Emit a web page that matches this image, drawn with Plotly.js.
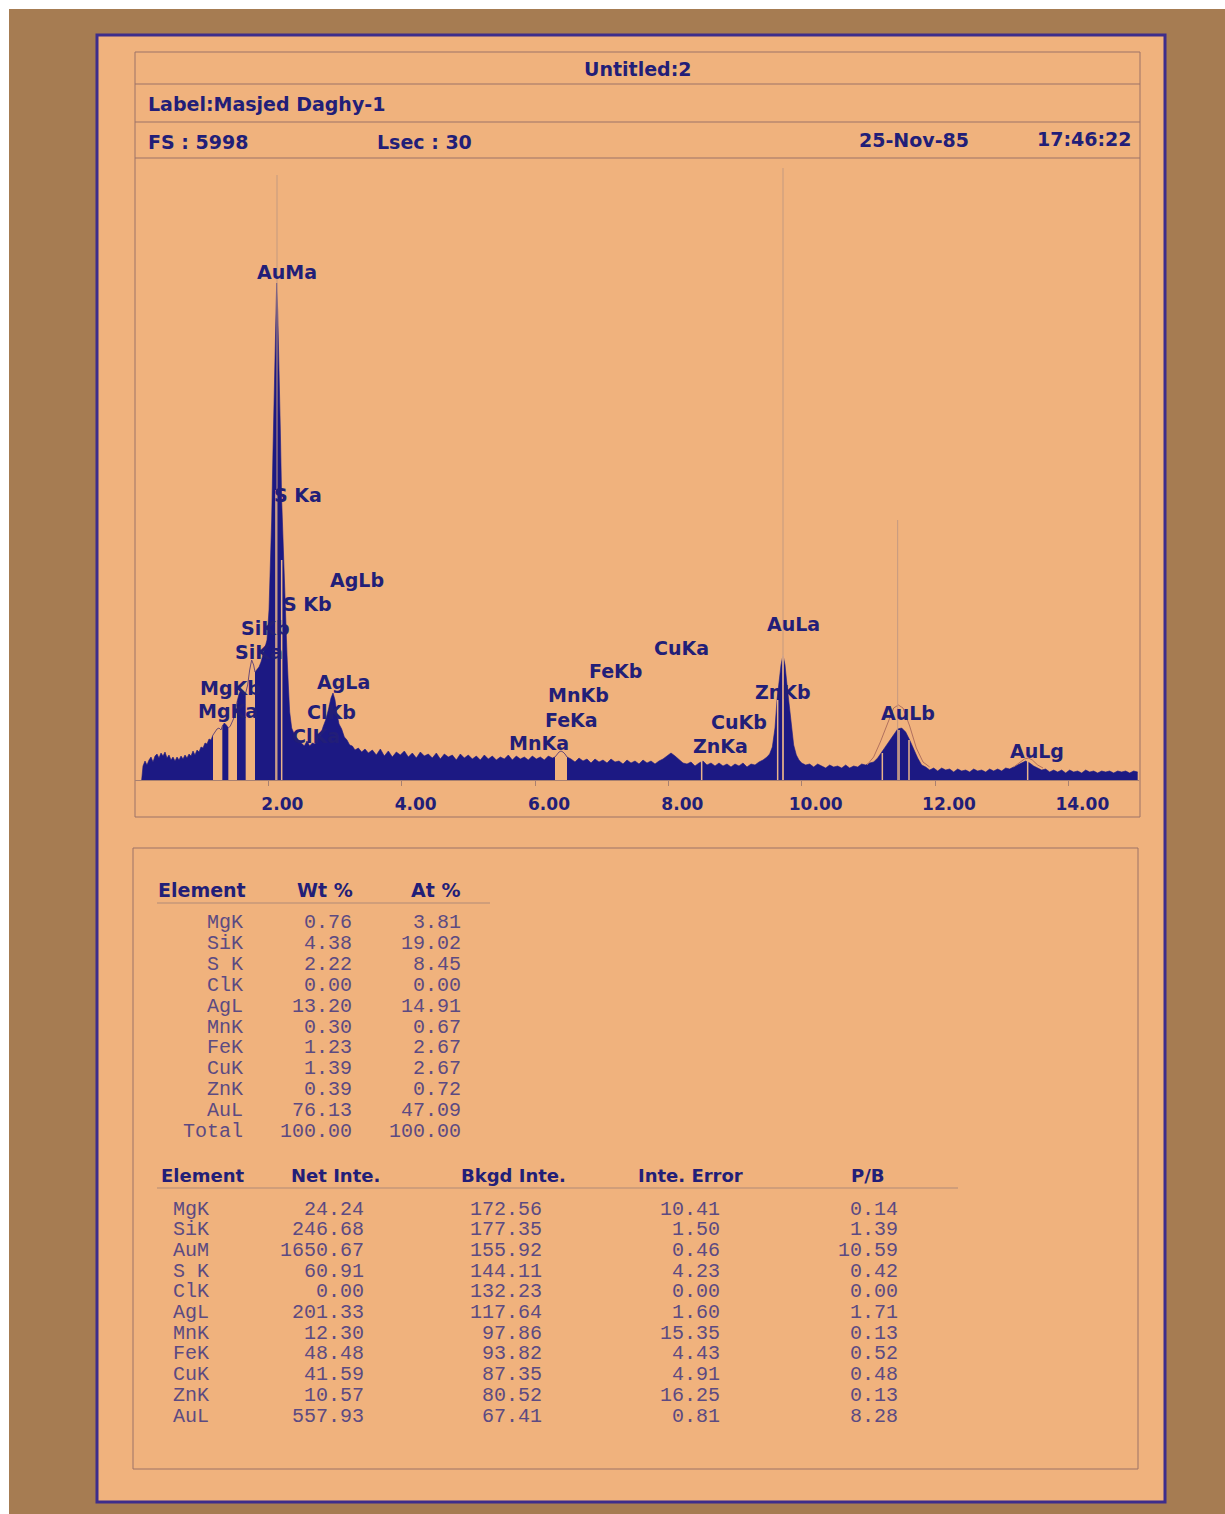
<!DOCTYPE html>
<html>
<head>
<meta charset="utf-8">
<script src="https://cdn.plot.ly/plotly-3.0.1.min.js"></script>
<style>html,body{margin:0;padding:0;background:#a67c52;}#chart{width:1225px;height:1514px;}</style>
</head>
<body>
<div id="chart"></div>
<script>
// ---------- spectrum data (energy keV, counts) ----------
const energy = [
0.10,0.12,0.15,0.18,0.21,0.24,0.27,0.30,0.33,0.36,0.39,0.42,
0.45,0.48,0.51,0.54,0.57,0.60,0.63,0.66,0.69,0.72,0.75,0.78,
0.81,0.84,0.87,0.90,0.93,0.96,0.99,1.02,1.05,1.08,1.11,1.14,
1.17,1.20,1.23,1.26,1.29,1.31,1.34,1.37,1.40,1.43,1.47,1.50,
1.53,1.56,1.59,1.62,1.66,1.69,1.72,1.75,1.78,1.80,1.83,1.86,
1.89,1.92,1.95,1.98,2.01,2.03,2.05,2.07,2.09,2.11,2.125,2.14,
2.16,2.18,2.20,2.22,2.24,2.26,2.28,2.30,2.32,2.35,2.40,2.45,
2.50,2.54,2.58,2.62,2.66,2.70,2.74,2.78,2.82,2.86,2.90,2.94,
2.97,3.00,3.03,3.06,3.10,3.14,3.18,3.22,3.26,3.30,3.35,3.40,
3.45,3.50,3.56,3.62,3.68,3.74,3.80,3.86,3.92,3.98,4.04,4.10,
4.16,4.22,4.28,4.34,4.40,4.46,4.52,4.58,4.64,4.70,4.76,4.82,
4.88,4.94,5.00,5.06,5.12,5.18,5.24,5.30,5.36,5.42,5.48,5.54,
5.60,5.66,5.72,5.78,5.84,5.90,5.96,6.02,6.08,6.14,6.20,6.26,
6.30,6.33,6.36,6.39,6.42,6.45,6.48,6.54,6.60,6.66,6.72,6.78,
6.84,6.90,6.96,7.02,7.08,7.14,7.20,7.26,7.32,7.38,7.44,7.50,
7.56,7.62,7.68,7.74,7.80,7.86,7.92,7.98,8.04,8.10,8.16,8.22,
8.28,8.34,8.40,8.46,8.52,8.58,8.64,8.70,8.76,8.82,8.88,8.94,
9.00,9.06,9.12,9.18,9.24,9.30,9.36,9.42,9.48,9.52,9.56,9.60,
9.63,9.66,9.69,9.72,9.75,9.78,9.81,9.84,9.88,9.92,9.96,10.00,
10.06,10.12,10.18,10.24,10.30,10.36,10.42,10.48,10.54,10.60,10.66,10.72,
10.78,10.84,10.90,10.96,11.02,11.08,11.14,11.20,11.26,11.32,11.38,11.44,
11.50,11.56,11.62,11.68,11.74,11.80,11.86,11.92,11.98,12.04,12.10,12.16,
12.22,12.28,12.34,12.40,12.46,12.52,12.58,12.64,12.70,12.76,12.82,12.88,
12.94,13.00,13.06,13.12,13.18,13.24,13.30,13.36,13.42,13.48,13.54,13.60,
13.66,13.72,13.78,13.84,13.90,13.96,14.02,14.08,14.14,14.20,14.26,14.32,
14.38,14.44,14.50,14.56,14.62,14.68,14.74,14.80,14.86,14.92,14.98,15.04];
const counts = [
0,140,190,150,200,230,180,240,260,220,270,240,
280,220,250,200,230,190,230,200,240,210,250,220,
260,240,290,250,300,280,330,320,370,360,410,400,
450,480,510,520,500,540,570,550,520,540,600,650,
780,860,900,880,870,950,1100,1200,1150,1080,1100,1130,
1180,1250,1320,1400,1700,2100,2600,3300,4000,4600,4970,4700,
4200,3500,2800,2350,2000,1600,1250,950,680,520,440,400,
370,340,390,340,370,360,420,440,530,600,700,820,
870,800,660,560,510,430,400,350,340,300,320,280,
310,270,300,250,310,240,290,230,280,250,290,230,
270,220,280,240,260,220,270,210,260,230,250,200,
260,220,250,210,240,200,250,210,240,200,230,210,
250,200,240,210,230,200,240,210,230,200,240,220,
230,260,280,290,280,260,230,210,180,220,190,210,
170,210,180,200,170,210,180,190,160,200,170,190,
160,200,170,190,160,190,210,240,270,240,200,170,
160,180,140,170,190,150,170,140,170,140,160,130,
160,140,170,130,160,150,180,200,230,260,330,520,
800,1000,1150,1250,1150,950,750,550,350,250,200,170,
150,160,130,160,140,120,150,130,140,120,150,120,
140,130,160,150,170,180,220,280,330,400,460,510,
520,480,400,310,220,150,130,100,120,90,120,100,
110,80,110,90,100,80,110,90,100,80,110,90,
110,90,120,110,130,150,170,190,170,140,120,100,
110,80,100,80,100,70,100,80,90,70,100,80,
90,70,90,80,90,70,90,80,90,70,90,80];

// integration windows drawn unfilled (keV)
const roiLo = [1.17, 1.40, 1.66, 6.30];
const roiHi = [1.31, 1.53, 1.80, 6.48];

// window boundary markers inside peaks (keV, counts top)
const roiLineE   = [2.115, 2.20, 8.50, 9.64, 9.72, 11.21, 11.46, 11.61, 13.39];
const roiLineTop = [2900, 2200, 200, 800, 1250, 270, 500, 400, 190];

// KLM marker lines (keV, counts top)
const markerE   = [2.13, 9.72, 11.44];
const markerTop = [6050, 6120, 2600];

// fitted outline of AuLb / AuLg
const fitE = [10.98,11.08,11.18,11.28,11.38,11.45,11.52,11.62,11.72,11.82,11.92, null, 13.18,13.26,13.34,13.40,13.46,13.54,13.62];
const fitC = [150,230,380,560,720,750,720,540,320,180,130, null, 130,170,210,220,200,150,120];

// peak labels
const lineLabels = ['AuMa','S Ka','AgLb','S Kb','SiKb','SiKa','MgKb','MgKa','AgLa','ClKb','ClKa','MnKa','FeKa','MnKb','FeKb','CuKa','ZnKa','CuKb','ZnKb','AuLa','AuLb','AuLg'];
const labelE = [2.28,2.445,3.33,2.58,1.95,1.86,1.425,1.395,3.12,2.95,2.715,6.06,6.54,6.65,7.20,8.20,8.78,9.06,9.72,9.87,11.60,13.53];
const labelC = [5080,2850,2000,1760,1520,1280,920,690,980,680,440,370,600,850,1090,1320,340,580,880,1560,670,290];

// axis ticks
const tickVals = [2,4,6,8,10,12,14];
const tickText = ['2.00','4.00','6.00','8.00','10.00','12.00','14.00'];

// header texts
const titleText = 'Untitled:2';
const labelText = 'Label:Masjed Daghy-1';
const fsText = 'FS : 5998';
const lsecText = 'Lsec : 30';
const dateText = '25-Nov-85';
const timeText = '17:46:22';

// table 1
const t1Head = ['Element','Wt %','At %'];
const elements1 = ['MgK','SiK','S K','ClK','AgL','MnK','FeK','CuK','ZnK','AuL','Total'];
const wtPct = ['0.76','4.38','2.22','0.00','13.20','0.30','1.23','1.39','0.39','76.13','100.00'];
const atPct = ['3.81','19.02','8.45','0.00','14.91','0.67','2.67','2.67','0.72','47.09','100.00'];

// table 2
const t2Head = ['Element','Net Inte.','Bkgd Inte.','Inte. Error','P/B'];
const elements2 = ['MgK','SiK','AuM','S K','ClK','AgL','MnK','FeK','CuK','ZnK','AuL'];
const netInte = ['24.24','246.68','1650.67','60.91','0.00','201.33','12.30','48.48','41.59','10.57','557.93'];
const bkgdInte = ['172.56','177.35','155.92','144.11','132.23','117.64','97.86','93.82','87.35','80.52','67.41'];
const inteError = ['10.41','1.50','0.46','4.23','0.00','1.60','15.35','4.43','4.91','16.25','0.81'];
const pbRatio = ['0.14','1.39','10.59','0.42','0.00','1.71','0.13','0.52','0.48','0.13','8.28'];

// ---------- styling ----------
const W = 1225, H = 1514;
const PX = x => x / W, PY = y => 1 - y / H;
const NAVY = '#221e78', FILL = '#1c1983', PEACH = '#f0b27d', RULE = '#9c7268', NUM = '#5c4a82';
const BOLD = 'DejaVu Sans, Arial, sans-serif';
const MONO = 'Liberation Mono, DejaVu Sans Mono, monospace';

const inRoi = (e, closed) => roiLo.some((lo, i) => closed ? (e >= lo && e <= roiHi[i]) : (e > lo && e < roiHi[i]));

// split spectrum into filled runs outside the windows
const traces = [];
let cur = null;
energy.forEach((e, i) => {
  if (inRoi(e, false)) { cur = null; return; }
  if (!cur) { cur = {x: [], y: []}; traces.push({x: cur.x, y: cur.y, type:'scatter', mode:'lines', fill:'tozeroy',
    fillcolor: FILL, line: {color: FILL, width: 0.6}, hoverinfo:'skip'}); }
  cur.x.push(e); cur.y.push(counts[i]);
});
// outline inside windows
traces.push({x: energy, y: counts.map((c, i) => inRoi(energy[i], true) ? c : null), type:'scatter', mode:'lines',
  connectgaps:false, line:{color:'#6a4a78', width:1}, hoverinfo:'skip'});
traces.push({x: fitE, y: fitC, type:'scatter', mode:'lines', connectgaps:false, line:{color:'#b0705e', width:1}, hoverinfo:'skip'});

const shapes = [];
const annotations = [];
shapes.push({type:'rect', xref:'paper', yref:'paper', x0:0, x1:PX(9), y0:0, y1:1, fillcolor:'#ffffff', line:{width:0}, layer:'below'});
shapes.push({type:'rect', xref:'paper', yref:'paper', x0:0, x1:1, y0:PY(9), y1:1, fillcolor:'#ffffff', line:{width:0}, layer:'below'});
shapes.push({type:'rect', xref:'paper', yref:'paper', x0:PX(97), x1:PX(1165), y0:PY(1502), y1:PY(35), fillcolor:PEACH, line:{color:'#3d2d8c', width:3}, layer:'below'});
const hline = (x0, x1, y, w, c) => shapes.push({type:'line', xref:'paper', yref:'paper', x0:PX(x0), x1:PX(x1), y0:PY(y), y1:PY(y), line:{color:c||RULE, width:w||1}, layer:'below'});
const vline = (x, y0, y1, w, c) => shapes.push({type:'line', xref:'paper', yref:'paper', x0:PX(x), x1:PX(x), y0:PY(y0), y1:PY(y1), line:{color:c||RULE, width:w||1}, layer:'below'});
hline(135, 1140, 52); hline(135, 1140, 84); hline(135, 1140, 122); hline(135, 1140, 158);
hline(135, 1140, 817);
vline(135, 52, 817); vline(1140, 52, 817);
hline(133, 1138, 848); hline(133, 1138, 1469); vline(133, 848, 1469); vline(1138, 848, 1469);
hline(157, 490, 903, 1, '#b08a78'); hline(157, 958, 1188, 1, '#b08a78');

markerE.forEach((e, i) => shapes.push({type:'line', xref:'x', yref:'y', x0:e, x1:e, y0:0, y1:markerTop[i], line:{color:'#c49a80', width:1}, layer:'above'}));
roiLineE.forEach((e, i) => shapes.push({type:'line', xref:'x', yref:'y', x0:e, x1:e, y0:0, y1:roiLineTop[i], line:{color:'#e9b48a', width:1.5}, layer:'above'}));

lineLabels.forEach((t, i) => annotations.push({x: labelE[i], y: labelC[i], xref:'x', yref:'y', text: t, showarrow:false,
  xanchor:'center', yanchor:'middle', font:{family:BOLD, size:19, color:NAVY, weight:'bold'}}));

const txt = (x, y, t, anchor, font) => annotations.push({x: PX(x), y: PY(y), xref:'paper', yref:'paper', text: t, showarrow:false,
  xanchor: anchor, yanchor:'middle', font: font});
const headF = {family:BOLD, size:19, color:NAVY, weight:'bold'};
txt(637, 69, titleText, 'center', headF);
txt(146, 104, labelText, 'left', headF);
txt(146, 142, fsText, 'left', headF);
txt(375, 142, lsecText, 'left', headF);
txt(857, 140, dateText, 'left', headF);
txt(1134, 139, timeText, 'right', headF);

const thF = {family:BOLD, size:19, color:NAVY, weight:'bold'};
const numF = {family:MONO, size:20, color:NUM};
txt(202, 890, t1Head[0], 'center', thF);
txt(325, 890, t1Head[1], 'center', thF);
txt(435, 890, t1Head[2], 'center', thF);
elements1.forEach((e, i) => {
  const y = 923 + i * 20.8;
  txt(245, y, e, 'right', numF);
  txt(354, y, wtPct[i], 'right', numF);
  txt(463, y, atPct[i], 'right', numF);
});
const t2x = [202, 335, 513, 690, 868];
t2Head.forEach((h, j) => txt(t2x[j], 1175, h, 'center', Object.assign({}, thF, {size:18})));
elements2.forEach((e, i) => {
  const y = 1209 + i * 20.7;
  txt(171, y, e, 'left', numF);
  txt(366, y, netInte[i], 'right', numF);
  txt(544, y, bkgdInte[i], 'right', numF);
  txt(722, y, inteError[i], 'right', numF);
  txt(900, y, pbRatio[i], 'right', numF);
});

const layout = {
  width: W, height: H, margin: {l:0, r:0, t:0, b:0},
  paper_bgcolor: '#a67c52', plot_bgcolor: 'rgba(0,0,0,0)', showlegend: false,
  xaxis: {domain: [135/W, 1139/W], range: [0, 15.06], tickmode:'array', tickvals: tickVals, ticktext: tickText,
    showgrid:false, zeroline:false, showline:true, linecolor:'#a88070', linewidth:1,
    ticks:'outside', ticklen:5, tickcolor:'#a88070', ticklabelshift: 14, ticklabelstandoff: 4,
    tickfont:{family:BOLD, size:17, color:NAVY, weight:'bold'}, fixedrange:true},
  yaxis: {domain: [1 - 780/H, 1 - 160/H], range: [0, 6200], visible:false, fixedrange:true},
  shapes: shapes, annotations: annotations
};
Plotly.newPlot('chart', traces, layout, {staticPlot:true, displayModeBar:false});
</script>
</body>
</html>
